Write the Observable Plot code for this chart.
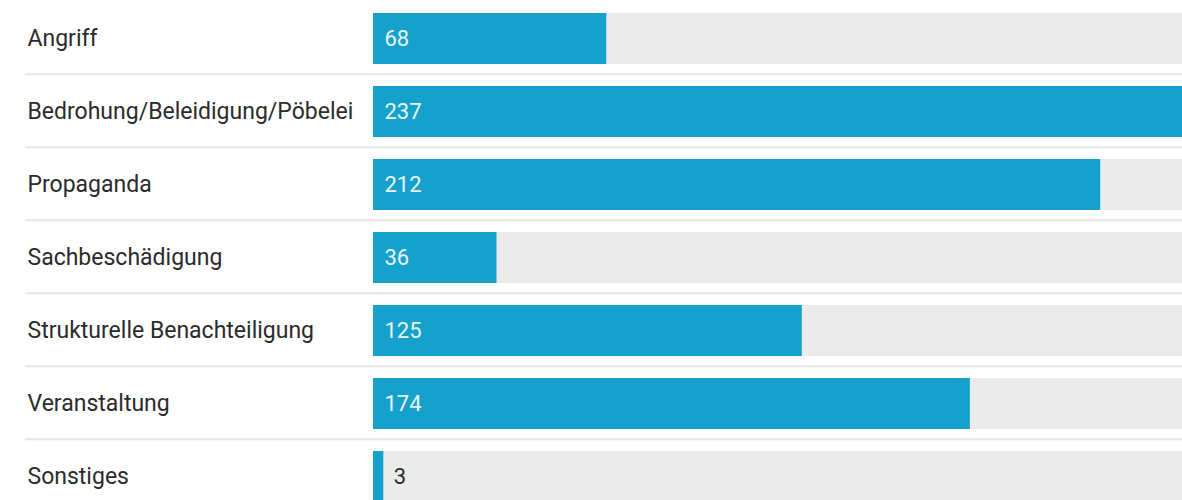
<!DOCTYPE html>
<html>
<head>
<meta charset="utf-8">
<script src="https://cdn.jsdelivr.net/npm/d3@7"></script>
<script src="https://cdn.jsdelivr.net/npm/@observablehq/plot@0.6"></script>
<style>
  html, body { margin: 0; padding: 0; background: #fff; overflow: hidden; }
  #chart svg { display: block; }
</style>
</head>
<body>
<div id="chart"></div>
<script>
const categories = [
  "Angriff",
  "Bedrohung/Beleidigung/Pöbelei",
  "Propaganda",
  "Sachbeschädigung",
  "Strukturelle Benachteiligung",
  "Veranstaltung",
  "Sonstiges"
];
const values = [68, 237, 212, 36, 125, 174, 3];
const maxValue = 237;

const data = categories.map((c, i) => ({category: c, value: values[i], max: maxValue}));
const separators = data.slice(1);

const width = 1182, height = 500;
const step = 73.45;
const y0 = 0;

const chart = Plot.plot({
  width, height,
  marginLeft: 25, marginRight: 0, marginTop: 0, marginBottom: 0,
  style: {fontFamily: "Roboto, sans-serif", background: "#fff", overflow: "hidden"},
  x: {domain: [0, maxValue], range: [373, 1186], axis: null},
  y: {domain: categories, range: [y0, y0 + step * categories.length], paddingInner: 0.306, paddingOuter: 0.153, axis: null},
  marks: [
    Plot.ruleY(separators, {y: "category", dy: -step / 2 - 1, stroke: "#e6e6e6", strokeWidth: 2}),
    Plot.barX(data, {x: "max", y: "category", fill: "#ebebeb"}),
    Plot.barX(data, {x: "value", y: "category", fill: "#16a1cc"}),
    Plot.text(data, {y: "category", text: "category", frameAnchor: "left", dx: 2, textAnchor: "start", fill: "#2b2b2b", fontSize: 23}),
    Plot.text(data.filter(d => d.value >= 10), {x: 0, y: "category", text: d => String(d.value), dx: 11, textAnchor: "start", fill: "#e8f6fb", fontSize: 22}),
    Plot.text(data.filter(d => d.value < 10), {x: "value", y: "category", text: d => String(d.value), dx: 10, textAnchor: "start", fill: "#2b2b2b", fontSize: 22})
  ]
});
document.getElementById("chart").appendChild(chart);
</script>
</body>
</html>
